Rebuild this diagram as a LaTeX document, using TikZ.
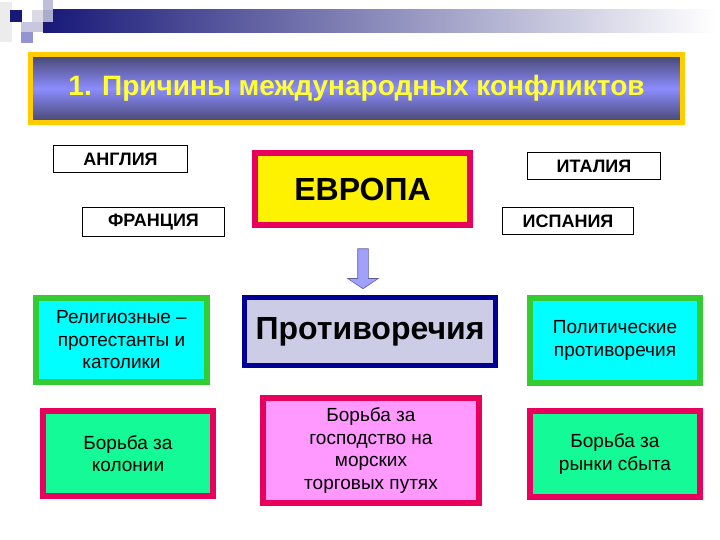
\documentclass[tikz,border=0pt]{standalone}
\usepackage{fontspec}
\setmainfont{Liberation Sans}
\usepackage{xcolor}
\usetikzlibrary{shapes.arrows}
\definecolor{deep navy}{RGB}{24,24,120}
\definecolor{title gold}{RGB}{255,204,0}
\definecolor{title dark}{RGB}{70,70,110}
\definecolor{title light}{RGB}{140,140,255}
\definecolor{title text}{RGB}{255,255,51}
\definecolor{frame red}{RGB}{232,0,92}
\definecolor{frame green}{RGB}{51,204,51}
\definecolor{frame navy}{RGB}{0,0,150}
\definecolor{fill cyan}{RGB}{0,255,255}
\definecolor{fill sea}{RGB}{20,250,150}
\definecolor{fill pink}{RGB}{255,153,255}
\definecolor{fill lilac}{RGB}{204,204,230}
\definecolor{arrow blue}{RGB}{160,160,255}
\colorlet{country edge}{black}
\def\fsize#1#2{\fontsize{#1}{#2}\selectfont}
\tikzset{country/.style={draw=country edge, fill=white, line width=1pt,
        inner sep=0pt, font=\bfseries\fsize{18}{21}},
    cause/.style={line width=6pt, inner sep=0pt, align=center,
        font=\fsize{19}{22.5}},
    religious/.style={cause, draw=frame green, fill=fill cyan},
    struggle/.style={cause, draw=frame red, fill=fill sea}}

\begin{document}
\begin{tikzpicture}[x=1pt, y=-1pt]
    \useasboundingbox (0,0) rectangle (720,540);
    % header strip
    \fill[gray!15] (0,2) rectangle (12,42);
    \shade[left color=deep navy, right color=white] (43,10) rectangle (715,33);
    \fill[blue!25!gray!40] (43,0) rectangle (53,10);
    \fill[blue!20!gray!30, opacity=.8] (32,10) rectangle (53,22);
    \fill[blue!25!gray!35] (21,22) rectangle (43,32);
    \fill[blue!40!gray!60] (21,32) rectangle (33,43);
    \fill[deep navy] (10,10) rectangle (22,22);
    % title
    \node[draw=title gold, line width=5pt, minimum width=652pt, minimum height=68pt,
        top color=title dark, bottom color=title dark, middle color=title light,
        text=title text, font=\bfseries\fsize{28}{33}] (title) at (356.5,88.5)
        {1. Причины международных конфликтов};
    % countries
    \node[country, minimum width=134pt, minimum height=27pt] (england) at (120.5,159) {АНГЛИЯ};
    \node[country, minimum width=142pt, minimum height=29pt] (france) at (153.5,222) {ФРАНЦИЯ};
    \node[country, minimum width=133pt, minimum height=27pt] (italy) at (594,166) {ИТАЛИЯ};
    \node[country, minimum width=131pt, minimum height=27pt] (spain) at (568,221) {ИСПАНИЯ};
    \node[draw=frame red, fill=yellow, line width=6pt, minimum width=215pt,
        minimum height=72pt, font=\bfseries\fsize{32}{38}] (europe) at (362.5,189) {ЕВРОПА};
    \node[single arrow, shape border rotate=270, minimum height=40pt,
        single arrow head extend=10pt, single arrow tip angle=112, inner sep=5pt,
        fill=arrow blue, draw=arrow blue!60!black, line width=.6pt] (down) at (363,267) {};
    % contradictions
    \node[draw=frame navy, fill=fill lilac, line width=5pt, minimum width=251pt,
        minimum height=68pt, font=\bfseries\fsize{32}{38}] (contra) at (370,331.5) {Противоречия};
    \node[religious, minimum width=171pt, minimum height=84pt] (faith) at (121.5,340)
        {Религиозные –\\протестанты и\\католики};
    \node[religious, minimum width=170pt, minimum height=85pt] (politics) at (615,340.5)
        {Политические\\противоречия};
    \node[struggle, minimum width=170pt, minimum height=85pt] (colonies) at (128,453.5)
        {Борьба за\\колонии};
    \node[struggle, fill=fill pink, minimum width=216pt, minimum height=105pt] (searoutes)
        at (371,450.5) {Борьба за\\господство на\\морских\\торговых путях};
    \node[struggle, minimum width=170pt, minimum height=86pt] (markets) at (615,454)
        {Борьба за\\рынки сбыта};
\end{tikzpicture}
\end{document}
